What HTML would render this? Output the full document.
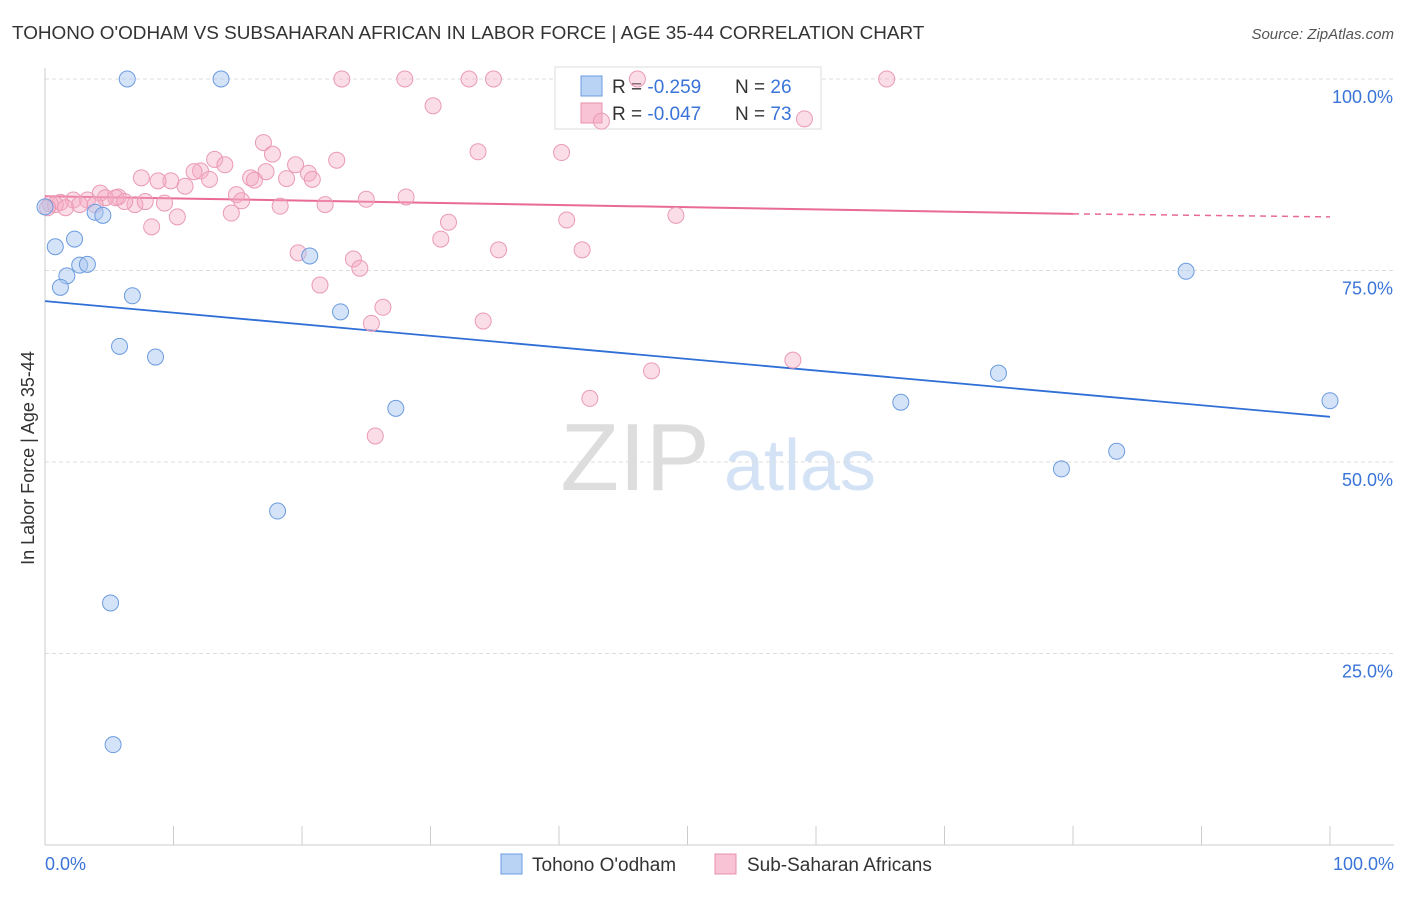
<!DOCTYPE html>
<html><head><meta charset="utf-8"><style>
body{margin:0;background:#fff;font-family:"Liberation Sans",sans-serif}
svg text{font-family:"Liberation Sans",sans-serif}
</style></head><body>
<svg id="chart" width="1406" height="892" xmlns="http://www.w3.org/2000/svg">
<text x="12" y="39" font-size="18.9" fill="#333">TOHONO O'ODHAM VS SUBSAHARAN AFRICAN IN LABOR FORCE | AGE 35-44 CORRELATION CHART</text>
<text x="1394" y="39" font-size="15" fill="#555" text-anchor="end" font-style="italic">Source: ZipAtlas.com</text>
<text x="34" y="458" font-size="18" fill="#333" text-anchor="middle" transform="rotate(-90 34 458)">In Labor Force | Age 35-44</text>
<text x="635" y="490" font-size="96" fill="#ddd" font-family="Liberation Serif" text-anchor="middle">ZIP</text>
<text x="800" y="490" font-size="72" fill="#d3e2f5" text-anchor="middle">atlas</text>
<g id="grid"></g>
<g>
<rect x="555" y="67" width="266" height="62" fill="#fff" stroke="#ddd"/>
<rect x="581" y="76" width="21" height="20" fill="#b9d3f5" stroke="#6b9be0"/>
<rect x="581" y="103" width="21" height="20" fill="#f8c3d4" stroke="#e890ac"/>
<text x="612" y="93" font-size="19" fill="#333">R = <tspan fill="#3a74d8">-0.259</tspan></text>
<text x="735" y="93" font-size="19" fill="#333">N = <tspan fill="#3a74d8">26</tspan></text>
<text x="612" y="120" font-size="19" fill="#333">R = <tspan fill="#3a74d8">-0.047</tspan></text>
<text x="735" y="120" font-size="19" fill="#333">N = <tspan fill="#3a74d8">73</tspan></text>
</g>
<g id="trends"></g><g id="pts"></g>
<g>
<rect x="501" y="854" width="21" height="20" fill="#b9d3f5" stroke="#6b9be0"/>
<text x="532" y="871" font-size="19" fill="#333">Tohono O'odham</text>
<rect x="715" y="854" width="21" height="20" fill="#f8c3d4" stroke="#e890ac"/>
<text x="747" y="871" font-size="19" fill="#333">Sub-Saharan Africans</text>
</g>
</svg>
<script>
const yTicks=[25,50,75,100];
const yTickLabels=["25.0%","50.0%","75.0%","100.0%"];
const xLabels=["0.0%","100.0%"];
const blueX=[6.4,13.7,0.8,2.3,1.7,1.2,2.7,3.3,3.9,4.5,6.8,5.8,8.6,20.6,23.0,27.3,18.1,5.1,5.3,88.8,74.2,66.6,100,79.1,83.4,0];
const blueY=[100,100,78.1,79.1,74.3,72.8,75.7,75.8,82.6,82.2,71.7,65.1,63.7,76.9,69.6,57.0,43.6,31.6,13.1,74.9,61.6,57.8,58.0,49.1,51.4,83.3];
const pinkX=[23.1,28.0,33.0,34.9,46.1,65.5,30.2,43.3,59.1,17.0,33.7,40.2,17.7,13.2,22.7,14.0,19.5,20.5,12.1,11.6,16.0,17.2,18.8,20.8,9.8,8.8,7.5,10.9,12.8,16.3,4.3,5.7,7.0,4.7,3.3,2.2,1.2,0.4,7.8,9.3,14.9,15.3,18.3,21.8,25.0,28.1,14.5,10.3,8.3,31.4,40.6,49.1,30.8,35.3,41.8,19.7,24.0,24.5,21.4,26.3,25.4,34.1,58.2,47.2,42.4,25.7,0.8,1.6,2.7,5.5,3.9,0.2,6.2];
const pinkY=[100,100,100,100,100,100,96.5,94.5,94.8,91.7,90.5,90.4,90.2,89.5,89.4,88.8,88.8,87.7,88.0,87.9,87.1,87.9,87.0,86.9,86.7,86.7,87.1,86.0,86.9,86.8,85.1,84.6,83.6,84.5,84.2,84.2,83.9,83.7,84.0,83.8,84.9,84.1,83.4,83.6,84.3,84.6,82.5,82.0,80.7,81.3,81.6,82.2,79.1,77.7,77.7,77.3,76.5,75.3,73.1,70.2,68.1,68.4,63.3,61.9,58.3,53.4,83.6,83.2,83.6,84.5,83.6,83.2,84.0];
const blueTrend=[0,71.0,100,55.9];
const pinkTrend=[0,84.7,80,82.4,100,82.0];
const NS="http://www.w3.org/2000/svg";
const X=v=>45+v*12.85, Y=v=>845-v*7.66;
function mk(t,a,p){const e=document.createElementNS(NS,t);for(const k in a)e.setAttribute(k,a[k]);p.appendChild(e);return e;}
const grid=document.getElementById('grid');
yTicks.forEach((t,i)=>{
 const l=mk('line',{x1:45,x2:1394,y1:Y(t),y2:Y(t),stroke:'#ddd','stroke-dasharray':'4,3'},grid);
 
 
 const tx=mk('text',{x:1393,y:Y(t)+24,'font-size':18,fill:'#3a74d8','text-anchor':'end'},grid);
 tx.textContent=yTickLabels[i];
 
 
});
const ax=mk('line',{x1:45,x2:45,y1:68,y2:845,stroke:'#ccc'},grid);


const bx=mk('line',{x1:45,x2:1394,y1:845,y2:845,stroke:'#ccc'},grid);


for(let i=0;i<=10;i++){const t=mk('line',{x1:X(i*10),x2:X(i*10),y1:826,y2:845,stroke:'#ccc'},grid);
 
 }
[[0,'start',45],[1,'end',1394]].forEach(([i,a,x])=>{const t=mk('text',{x:x,y:870,'font-size':18,fill:'#3a74d8','text-anchor':a},grid);t.textContent=xLabels[i];
 
 });
const pts=document.getElementById('pts');
pinkX.forEach((v,i)=>{const c=mk('circle',{cx:X(v),cy:Y(pinkY[i]),r:8,fill:'rgba(245,170,195,0.4)',stroke:'#ea9ab5','stroke-width':1},pts);
 
 });
blueX.forEach((v,i)=>{const c=mk('circle',{cx:X(v),cy:Y(blueY[i]),r:8,fill:'rgba(170,200,240,0.5)',stroke:'#6b9be0','stroke-width':1},pts);
 
 });
const tr=document.getElementById('trends');
const b=mk('line',{x1:X(blueTrend[0]),y1:Y(blueTrend[1]),x2:X(blueTrend[2]),y2:Y(blueTrend[3]),stroke:'#2f6fd6','stroke-width':1.8},tr);


const p=mk('line',{x1:X(pinkTrend[0]),y1:Y(pinkTrend[1]),x2:X(pinkTrend[2]),y2:Y(pinkTrend[3]),stroke:'#e86a95','stroke-width':2},tr);


const pd=mk('line',{x1:X(pinkTrend[2]),y1:Y(pinkTrend[3]),x2:X(pinkTrend[4]),y2:Y(pinkTrend[5]),stroke:'#e86a95','stroke-width':1.5,'stroke-dasharray':'6,5'},tr);


</script>
</body></html>
